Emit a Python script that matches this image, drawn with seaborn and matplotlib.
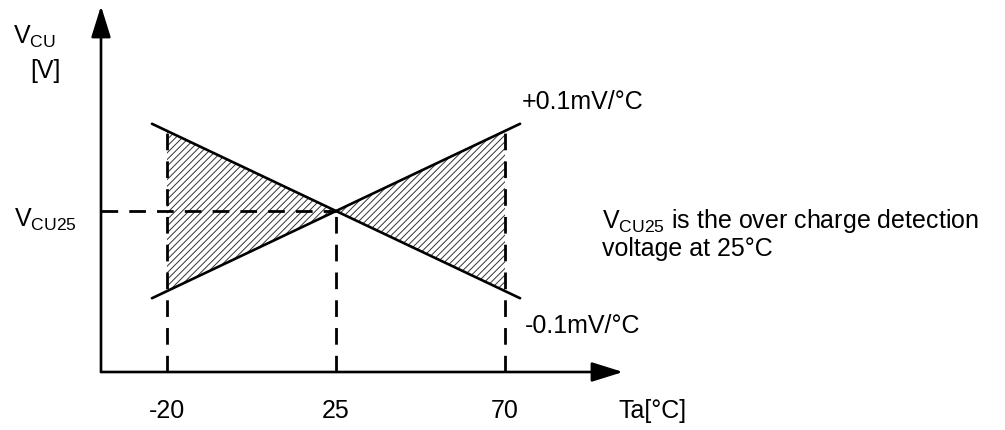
import numpy as np
import pandas as pd
import seaborn as sns
from matplotlib import pyplot as plt

# temperatures (°C) and detection voltage offsets (mV from V_CU25)
line_t = [-24, 74]
rise_v = [-4.9, 4.9]
fall_v = [4.9, -4.9]

fill_t = [-20, 25, 70]
upper_v = [4.5, 0.0, 4.5]
lower_v = [-4.5, 0.0, -4.5]

tick_t = [-20, 25, 70]
tick_labels = ['-20', '25', '70']

sns.set_theme(style='white')
plt.rcParams['font.family'] = ['Liberation Sans', 'DejaVu Sans']
plt.rcParams['mathtext.fontset'] = 'custom'
plt.rcParams['mathtext.rm'] = 'Liberation Sans'
plt.rcParams['text.color'] = 'black'
plt.rcParams['hatch.linewidth'] = 0.7
plt.rcParams['hatch.color'] = '#333333'

fig = plt.figure(figsize=(10.05, 4.3), dpi=100)
ax = fig.add_axes([0, 0, 1, 1])
ax.set_axis_off()

# pixel scale: 3.756 px per °C, 17.8 px per mV, V_CU25 at pixel row 211
px_t, px_v = 3.756, 17.8
t0 = -20 - 167 / px_t
ax.set_xlim(t0, t0 + 1005 / px_t)
ax.set_ylim(-(430 - 211) / px_v, 211 / px_v)

origin_t = t0 + 101 / px_t
origin_v = -(372 - 211) / px_v

# hatched bow-tie
ax.fill_between(fill_t, lower_v, upper_v, facecolor='white', edgecolor='#333333',
                hatch='/////', linewidth=0)

lines = pd.DataFrame({'t': line_t * 2, 'v': rise_v + fall_v,
                      'slope': ['+'] * 2 + ['-'] * 2})
sns.lineplot(data=lines, x='t', y='v', units='slope', estimator=None,
             color='black', linewidth=1.9, ax=ax)

dash = (0, (6, 4))
ax.plot([origin_t, 25], [0, 0], color='black', lw=2, linestyle=dash)
ax.plot([-20, -20], [origin_v, upper_v[0]], color='black', lw=2, linestyle=dash)
ax.plot([25, 25], [origin_v, 0], color='black', lw=2, linestyle=dash)
ax.plot([70, 70], [origin_v, upper_v[2]], color='black', lw=2, linestyle=dash)

# axes with arrows
arrow = dict(arrowstyle='-|>,head_length=1.6,head_width=0.5', color='black',
             lw=1.9, shrinkA=0, shrinkB=0)
ax.annotate('', xy=(t0 + 623 / px_t, origin_v), xytext=(origin_t, origin_v),
            arrowprops=arrow)
ax.annotate('', xy=(origin_t, 205 / px_v), xytext=(origin_t, origin_v),
            arrowprops=arrow)

fs = 18
trans = ax.get_xaxis_transform()
for t, lab in zip(tick_t, tick_labels):
    ax.text(t, 1 - 418 / 430, lab, transform=trans, ha='center', va='baseline',
            fontsize=fs, color='black')


def ftext(px, py, s, **kw):
    ax.text(px / 1005, 1 - py / 430, s, transform=ax.transAxes,
            va='baseline', ha='left', fontsize=fs, color='black', **kw)


ftext(618, 418, 'Ta[°C]')
ftext(13, 44, r'$\mathregular{V_{CU}}$')
ftext(30, 78, '[V]')
ftext(14, 227, r'$\mathregular{V_{CU25}}$')
ftext(522, 109, '+0.1mV/°C')
ftext(525, 333, '-0.1mV/°C')
ftext(602, 228, r'$\mathregular{V_{CU25}}$ is the over charge detection')
ftext(602, 256, 'voltage at 25°C')

fig.savefig('out.png', dpi=100)
